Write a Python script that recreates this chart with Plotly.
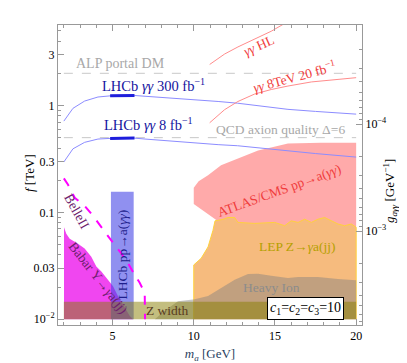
import numpy as np
import plotly.graph_objects as go

# ---- data ----
F_FLOOR = 0.01
ALP_DM_F = 2.0
QCD_QUALITY_F = 0.5
M_MIN, M_MAX = 2.0, 20.0
LOG_C = -4.175  # g_agg = C / f

lhcb300_m = [2.0, 2.56, 3.28, 4.1, 4.85, 5.5, 6.35, 7.0, 8.5, 10.0, 11.5, 12.7, 14.0, 15.8, 17.5, 20.0]
lhcb300_f = [0.714, 0.94, 1.10, 1.20, 1.23, 1.24, 1.24, 1.22, 1.18, 1.14, 1.09, 1.05, 0.99, 0.92, 0.88, 0.83]
lhcb8_m = [2.0, 2.56, 3.28, 4.1, 4.85, 5.5, 6.35, 7.0, 8.5, 10.0, 11.5, 12.7, 14.0, 15.8, 17.5, 20.0]
lhcb8_f = [0.296, 0.393, 0.452, 0.485, 0.492, 0.495, 0.495, 0.485, 0.465, 0.445, 0.43, 0.42, 0.40, 0.375, 0.355, 0.329]
lhcb_meas_m = [4.85, 5.5, 6.35]
lhcb300_meas_f = [1.23, 1.24, 1.24]
lhcb8_meas_f = [0.492, 0.495, 0.495]

hl_m = [10.98, 11.9, 12.72, 13.75, 14.77, 15.8, 17.0]
hl_f = [2.42, 3.03, 3.53, 4.15, 4.95, 6.1, 7.5]
run8_m = [10.98, 11.9, 12.72, 13.75, 14.77, 15.8, 17.24, 20.0]
run8_f = [0.689, 0.914, 1.09, 1.28, 1.41, 1.52, 1.66, 1.82]

atlas_m = [10.0, 10.0, 10.3, 10.88, 11.68, 12.91, 13.96, 14.76, 15.8, 17.83, 20.0]
atlas_f = [0.12, 0.17, 0.195, 0.223, 0.276, 0.327, 0.379, 0.404, 0.44, 0.449, 0.449]

lep_m = [10.0, 10.46, 10.88, 11.18, 11.31, 11.8, 12.11, 12.52, 12.72, 13.75, 14.98, 15.6,
         16.0, 16.42, 16.83, 17.24, 17.65, 18.06, 18.47, 18.88, 19.29, 19.7, 20.0]
lep_f = [0.0322, 0.0372, 0.0475, 0.0675, 0.0833, 0.086, 0.0895, 0.0895, 0.0805, 0.0788, 0.0805, 0.075,
         0.0833, 0.0805, 0.0863, 0.0805, 0.0863, 0.0895, 0.0833, 0.0778, 0.075, 0.0778, 0.0725]

hi_m = [7.6, 8.21, 9.03, 10.06, 10.88, 11.7, 12.52, 13.34, 13.96, 14.77, 15.8, 16.42, 17.65, 18.88, 20.0]
hi_f = [0.01, 0.012, 0.0147, 0.0154, 0.0165, 0.0197, 0.0234, 0.0265, 0.0266, 0.0255, 0.0243, 0.0248, 0.0248, 0.0238, 0.0232]

zwidth_f = 0.0146

babar_m = [2.01, 2.15, 2.36, 2.87, 3.28, 3.69, 4.0, 4.31, 4.72, 5.03, 5.33, 5.75, 6.05, 6.26]
babar_f = [0.0724, 0.063, 0.0566, 0.0509, 0.0458, 0.0384, 0.0311, 0.028, 0.0235, 0.0204, 0.0165, 0.0129, 0.0108, 0.01]

belle_m = [2.0, 2.26, 2.67, 3.28, 3.8, 4.31, 4.92, 5.54, 5.95, 6.36, 6.67, 6.98, 7.0]
belle_f = [0.208, 0.181, 0.137, 0.115, 0.0927, 0.0725, 0.0546, 0.0412, 0.0334, 0.0261, 0.0219, 0.0177, 0.01]

lhcb_pp_m = [4.9, 6.3]
lhcb_pp_f = 0.156

SERIF = "Liberation Serif"
fig = go.Figure()


def region(xs, ys, fill, line=None, lw=0):
    fig.add_trace(go.Scatter(x=xs, y=ys, fill="toself", fillcolor=fill, mode="lines",
                             line=dict(color=line or "rgba(0,0,0,0)", width=lw),
                             hoverinfo="skip", showlegend=False))


def curve(xs, ys, color, width=1, dash="solid"):
    fig.add_trace(go.Scatter(x=xs, y=ys, mode="lines", line=dict(color=color, width=width, dash=dash),
                             hoverinfo="skip", showlegend=False))


# filled regions
region(atlas_m + [atlas_m[-1]], atlas_f + [F_FLOOR], "#FFAAAA")
region([lep_m[0]] + lep_m + [lep_m[-1]], [F_FLOOR] + lep_f + [F_FLOOR], "#F6BB7E", "#FFD23C", 1)
region(hi_m + [hi_m[-1]], hi_f + [F_FLOOR], "rgba(128,128,128,0.45)")
region([babar_m[0]] + babar_m, [F_FLOOR] + babar_f, "rgb(240,70,240)")
region([lhcb_pp_m[0], lhcb_pp_m[0], lhcb_pp_m[1], lhcb_pp_m[1]],
       [F_FLOOR, lhcb_pp_f, lhcb_pp_f, F_FLOOR], "rgba(70,70,230,0.6)")
region([M_MIN, M_MIN, M_MAX, M_MAX], [F_FLOOR, zwidth_f, zwidth_f, F_FLOOR], "rgba(135,125,0,0.5)")

# lines
curve([M_MIN, M_MAX], [ALP_DM_F] * 2, "#C8C8C8", 1, "dash")
curve([M_MIN, M_MAX], [QCD_QUALITY_F] * 2, "#C8C8C8", 1, "dash")
curve(lhcb300_m, lhcb300_f, "#8C8CFF", 1)
curve(lhcb8_m, lhcb8_f, "#8C8CFF", 1)
curve(lhcb_meas_m, lhcb300_meas_f, "#1E1EDC", 3)
curve(lhcb_meas_m, lhcb8_meas_f, "#1E1EDC", 3)
curve(hl_m, hl_f, "#FF8C8C", 1)
curve(run8_m, run8_f, "#FF8C8C", 1)
curve(belle_m, belle_f, "#FF00FF", 2, "dash")

# invisible trace so the coupling axis is drawn
fig.add_trace(go.Scatter(x=[M_MIN], y=[10 ** LOG_C / QCD_QUALITY_F], yaxis="y2", mode="markers",
                         marker=dict(opacity=0), hoverinfo="skip", showlegend=False))


def label(text, m, f, color, size=13.5, angle=0):
    fig.add_annotation(x=m, y=np.log10(f), text=text, showarrow=False, textangle=angle,
                       font=dict(family=SERIF, size=size, color=color))


label("ALP portal DM", 5.46, 2.48, "#A8A8A8", size=14)
label("LHCb <i>γγ</i> 300 fb<sup>−1</sup>", 7.5, 1.56, "#1414A0", size=14.5)
label("LHCb <i>γγ</i> 8 fb<sup>−1</sup>", 7.2, 0.67, "#1414A0", size=14.5)
label("QCD axion quality Δ=6", 15.37, 0.59, "#A8A8A8")
label("<i>γγ</i> HL", 14.02, 3.63, "#F03C3C", angle=-24)
label("<i>γγ</i> 8TeV 20 fb<sup>−1</sup>", 16.23, 1.85, "#F03C3C", angle=-15)
label("ATLAS/CMS pp→a(<i>γγ</i>)", 15.25, 0.16, "#F03C3C", angle=-20)
label("LEP Z→<i>γ</i>a(jj)", 16.36, 0.0478, "#B4A000")
label("Heavy Ion", 14.76, 0.0197, "#8C8C8C")
label("Z width", 8.41, 0.0121, "#5A3C1E")
label("BelleII", 2.81, 0.102, "#6E1E6E", angle=61)
label("Babar Υ→<i>γ</i>a(jj)", 4.16, 0.0243, "#6E1E6E", angle=52)
label("LHCb pp→a(<i>γγ</i>)", 5.58, 0.0404, "#1E1E8C", angle=-90)
fig.add_annotation(x=16.85, y=np.log10(0.0126), showarrow=False,
                   text="<i>c</i><sub>1</sub>=<i>c</i><sub>2</sub>=<i>c</i><sub>3</sub>=10",
                   font=dict(family=SERIF, size=14, color="black"),
                   bgcolor="white", bordercolor="black", borderwidth=1, borderpad=2)

# axis titles placed by hand, the right one would be clipped otherwise
fig.add_annotation(xref="paper", yref="paper", x=1.13, y=0.445, textangle=-90, showarrow=False,
                   text="<i>g<sub>aγγ</sub></i> [GeV<sup>−1</sup>]",
                   font=dict(family=SERIF, size=13, color="black"))
fig.add_annotation(xref="paper", yref="paper", x=-0.125, y=0.505, textangle=-90, showarrow=False,
                   text="<i>f</i> [TeV]", font=dict(family=SERIF, size=13, color="black"))

axis_style = dict(showline=True, linecolor="#999999", linewidth=1, ticks="inside",
                  tickcolor="#999999", ticklen=6, showgrid=False, zeroline=False,
                  tickfont=dict(family=SERIF, size=12, color="black"))

y_minor = [0.02, 0.04, 0.05, 0.06, 0.07, 0.08, 0.09, 0.2, 0.4, 0.5, 0.6, 0.7, 0.8, 0.9, 2, 4, 5]
g_minor = [k * 10.0 ** e for e in (-5, -4, -3) for k in range(2, 10)]

fig.update_layout(
    width=407, height=363,
    margin=dict(l=50, r=53, t=17, b=40),
    plot_bgcolor="white", paper_bgcolor="white",
    xaxis=dict(range=[1.64, 20.36], tickvals=[5, 10, 15, 20], mirror="ticks",
               minor=dict(tickvals=list(range(2, 21)), ticks="inside", ticklen=3, tickcolor="#999999"),
               title=dict(text="<i>m<sub>a</sub></i> [GeV]", font=dict(family=SERIF, size=13), standoff=6),
               **axis_style),
    yaxis=dict(type="log", range=[-2.054, 0.753],
               tickvals=[0.01, 0.03, 0.1, 0.3, 1, 3],
               ticktext=["10<sup>−2</sup>", "0.03", "0.1", "0.3", "1", "3"],
               minor=dict(tickvals=y_minor, ticks="inside", ticklen=3, tickcolor="#999999"),
               **axis_style),
    yaxis2=dict(type="log", overlaying="y", side="right",
                range=[LOG_C + 2.054, LOG_C - 0.753],
                tickvals=[1e-4, 1e-3], ticktext=["10<sup>−4</sup>", "10<sup>−3</sup>"],
                minor=dict(tickvals=g_minor, ticks="inside", ticklen=3, tickcolor="#999999"),
                **axis_style),
)

fig.write_html("out.html")
